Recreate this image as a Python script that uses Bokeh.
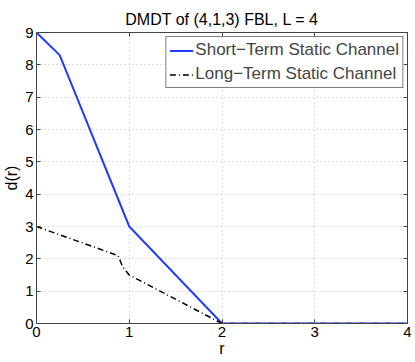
from bokeh.plotting import figure
from bokeh.models import LinearAxis, FixedTicker, Legend, LegendItem, Range1d, Title
from bokeh.embed import file_html
from bokeh.resources import INLINE

# Data
r_short = [0, 0.25, 1, 2, 4]
d_short = [9, 8.3, 3, 0, 0]
r_long = [0, 0.88, 0.93, 1, 2, 4]
d_long = [3, 2.1, 1.75, 1.5, 0, 0]
x_ticks = [0, 1, 2, 3, 4]
y_ticks = [0, 1, 2, 3, 4, 5, 6, 7, 8, 9]

FONT = "Liberation Sans"
AX = "#444444"

p = figure(width=415, height=362, output_backend="svg", toolbar_location=None,
           x_range=Range1d(0, 4), y_range=Range1d(0, 9),
           min_border_left=35, min_border_right=8, min_border_top=32, min_border_bottom=39)
p.title = None

p.background_fill_color = "white"
p.border_fill_color = "white"
p.outline_line_color = AX

l1 = p.line(r_short, d_short, line_color="#1f3dff", line_width=2)
l2 = p.line(r_long, d_long, line_color="black", line_width=1.5, line_dash="6 3 1 3")

# mirrored inward ticks on top and right (minor ticks only, so no labels)
top_ax = LinearAxis(ticker=FixedTicker(ticks=[], minor_ticks=x_ticks))
right_ax = LinearAxis(ticker=FixedTicker(ticks=[], minor_ticks=y_ticks))
for ax in (top_ax, right_ax):
    ax.major_label_standoff = 0
    ax.major_tick_line_color = None
    ax.minor_tick_in = 4
    ax.minor_tick_out = 0
    ax.minor_tick_line_color = AX
    ax.axis_line_color = AX
p.add_layout(top_ax, "above")
p.add_layout(right_ax, "right")

p.add_layout(Title(text="DMDT of (4,1,3) FBL, L = 4", align="center", text_font=FONT,
                   text_font_size="16px", text_font_style="normal", text_color="black",
                   standoff=10), "above")

for ax in (p.below[0], p.left[0]):
    ax.major_tick_in = 4
    ax.major_tick_out = 0
    ax.minor_tick_line_color = None
    ax.axis_line_color = AX
    ax.major_tick_line_color = AX
    ax.major_label_text_font = FONT
    ax.major_label_text_font_size = "15px"
    ax.major_label_text_color = "black"
    ax.axis_label_text_font = FONT
    ax.axis_label_text_font_size = "16px"
    ax.axis_label_text_font_style = "normal"
    ax.axis_label_text_color = "black"

p.below[0].ticker = FixedTicker(ticks=x_ticks)
p.left[0].ticker = FixedTicker(ticks=y_ticks)
p.below[0].axis_label = "r"
p.left[0].axis_label = "d(r)"
p.below[0].axis_label_standoff = 0
p.left[0].axis_label_standoff = 2
p.below[0].major_label_standoff = 3
p.left[0].major_label_standoff = 3

p.xgrid.ticker = FixedTicker(ticks=x_ticks)
p.ygrid.ticker = FixedTicker(ticks=y_ticks)
for g in (p.xgrid, p.ygrid):
    g.grid_line_color = "#bbbbbb"
    g.grid_line_dash = "1 3"
    g.grid_line_width = 1

legend = Legend(items=[LegendItem(label="Short\u2212Term Static Channel", renderers=[l1]),
                       LegendItem(label="Long\u2212Term Static Channel", renderers=[l2])],
                location="top_right", label_text_font=FONT, label_text_font_size="17px",
                glyph_width=24, glyph_height=17, label_height=17, spacing=4, padding=3,
                margin=4, border_line_color="black", border_line_width=1,
                label_standoff=2, background_fill_alpha=1)
p.add_layout(legend, "center")

open("out.html", "w").write(file_html(p, INLINE))
